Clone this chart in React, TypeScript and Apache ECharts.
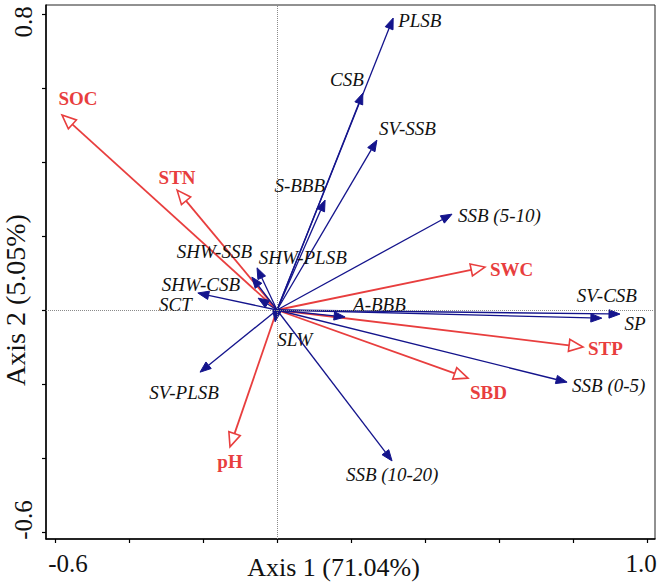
import React, { useEffect, useRef } from 'react';
import * as echarts from 'echarts';

// Species (response) arrows – blue, filled heads
const speciesNames = ['PLSB', 'CSB', 'SV-SSB', 'S-BBB', 'SSB (5-10)', 'SHW-SSB', 'SHW-PLSB', 'SHW-CSB', 'SCT', 'SV-CSB', 'SP', 'A-BBB', 'SLW', 'SV-PLSB', 'SSB (0-5)', 'SSB (10-20)'];
const speciesX = [0.314, 0.232, 0.270, 0.130, 0.473, -0.054, -0.068, -0.051, -0.214, 0.878, 0.927, 0.184, -0.005, -0.208, 0.784, 0.311];
const speciesY = [0.789, 0.586, 0.459, 0.297, 0.259, 0.114, 0.089, 0.032, 0.046, -0.022, -0.011, -0.019, -0.032, -0.168, -0.195, -0.408];

// Environmental arrows – red, open heads
const envNames = ['SOC', 'STN', 'SWC', 'STP', 'SBD', 'pH'];
const envX = [-0.581, -0.270, 0.562, 0.827, 0.516, -0.127];
const envY = [0.527, 0.324, 0.116, -0.100, -0.184, -0.370];

// Axis ticks
const xTickValues = [-0.6, -0.4, -0.2, 0, 0.2, 0.4, 0.6, 0.8, 1.0];
const xTickLabels = [-0.6, 1.0];
const yTickValues = [-0.6, -0.4, -0.2, 0, 0.2, 0.4, 0.6, 0.8];
const yTickLabels = [-0.6, 0.8];

const xTitle = 'Axis 1 (71.04%)';
const yTitle = 'Axis 2 (5.05%)';

// Label placement (pixel offsets from the arrow tip) – style only
const labelPlace: Record<string, { dx: number; dy: number; align: string }> = {
  'PLSB': { dx: 5, dy: 2, align: 'left' },
  'CSB': { dx: 1, dy: -14, align: 'right' },
  'SV-SSB': { dx: 2, dy: -12, align: 'left' },
  'S-BBB': { dx: 0, dy: -15, align: 'right' },
  'SSB (5-10)': { dx: 6, dy: 1, align: 'left' },
  'SHW-SSB': { dx: -5, dy: -16, align: 'right' },
  'SHW-PLSB': { dx: 7, dy: -20, align: 'left' },
  'SHW-CSB': { dx: -18, dy: -14, align: 'right' },
  'SCT': { dx: -6, dy: 12, align: 'right' },
  'SV-CSB': { dx: 5, dy: -23, align: 'center' },
  'SP': { dx: 15, dy: 9, align: 'center' },
  'A-BBB': { dx: 8, dy: -13, align: 'left' },
  'SLW': { dx: 2, dy: 18, align: 'left' },
  'SV-PLSB': { dx: -16, dy: 20, align: 'center' },
  'SSB (0-5)': { dx: 5, dy: 3, align: 'left' },
  'SSB (10-20)': { dx: 0, dy: 14, align: 'center' },
  'SOC': { dx: 16, dy: -17, align: 'center' },
  'STN': { dx: 0, dy: -13, align: 'center' },
  'SWC': { dx: 5, dy: 2, align: 'left' },
  'STP': { dx: 5, dy: 1, align: 'left' },
  'SBD': { dx: 2, dy: 14, align: 'left' },
  'pH': { dx: 0, dy: 15, align: 'center' },
};

const BLUE = '#14148c';
const RED = '#e83e3e';
const SERIF = '"Liberation Serif", "Times New Roman", serif';

function makeRenderer(names: string[], red: boolean) {
  return (params: any, api: any) => {
    const i = params.dataIndex;
    const name = names[i];
    const tip = api.coord([api.value(0), api.value(1)]);
    const o = api.coord([0, 0]);
    const dx = tip[0] - o[0];
    const dy = tip[1] - o[1];
    const len = Math.hypot(dx, dy) || 1;
    const ux = dx / len;
    const uy = dy / len;
    const headLen = red ? 14 : 11;
    const headW = red ? 6 : 4.2;
    const bx = tip[0] - ux * headLen;
    const by = tip[1] - uy * headLen;
    const px = -uy;
    const py = ux;
    const color = red ? RED : BLUE;
    const place = labelPlace[name] || { dx: 4, dy: 0, align: 'left' };
    return {
      type: 'group',
      children: [
        {
          type: 'line',
          shape: { x1: o[0], y1: o[1], x2: bx, y2: by },
          style: { stroke: color, lineWidth: red ? 1.8 : 1.3 },
        },
        {
          type: 'polygon',
          shape: {
            points: [
              [tip[0], tip[1]],
              [bx + px * headW, by + py * headW],
              [bx - px * headW, by - py * headW],
            ],
          },
          style: red
            ? { fill: '#ffffff', stroke: color, lineWidth: 1.6 }
            : { fill: color, stroke: color, lineWidth: 1 },
        },
        {
          type: 'text',
          style: {
            text: name,
            x: tip[0] + place.dx,
            y: tip[1] + place.dy,
            align: place.align,
            verticalAlign: 'middle',
            fill: red ? RED : '#111111',
            fontFamily: SERIF,
            fontSize: 19,
            fontStyle: red ? 'normal' : 'italic',
            fontWeight: red ? 'bold' : 'normal',
          },
        },
      ],
    };
  };
}

export default function App() {
  const ref = useRef<HTMLDivElement>(null);
  useEffect(() => {
    document.body.style.margin = '0';
    const chart = echarts.init(ref.current!, null, { renderer: 'svg' });
    const option: any = {
      animation: false,
      backgroundColor: '#ffffff',
      grid: {
        left: 46,
        right: 6,
        top: 5,
        bottom: 48,
        containLabel: false,
        outerBoundsMode: 'none',
        show: true,
        borderColor: '#222',
        borderWidth: 1,
        backgroundColor: 'transparent',
      },
      xAxis: {
        type: 'value',
        min: -0.6243,
        max: 1.0216,
        axisLine: { show: true, onZero: false, lineStyle: { color: '#000', width: 1.5 } },
        axisTick: { show: true, length: 4, customValues: xTickValues, lineStyle: { color: '#000', width: 1.2 } },
        splitLine: { show: false },
        axisLabel: {
          customValues: xTickLabels,
          margin: 12,
          formatter: (v: number) => (v < 0 ? '{a|' + v.toFixed(1) + '}' : '{b|' + v.toFixed(1) + '}'),
          rich: {
            a: { fontFamily: SERIF, fontSize: 25, color: '#111', padding: [0, 0, 0, 26] },
            b: { fontFamily: SERIF, fontSize: 25, color: '#111', padding: [0, 12, 0, 0] },
          },
        },
        name: xTitle,
        nameLocation: 'middle',
        nameGap: 15,
        nameMoveOverlap: false,
        nameTextStyle: { fontFamily: SERIF, fontSize: 26, color: '#111', padding: [0, 34, 0, 0] },
      },
      yAxis: {
        type: 'value',
        min: -0.6189,
        max: 0.8243,
        axisLine: { show: true, onZero: false, lineStyle: { color: '#000', width: 1.5 } },
        axisTick: { show: true, length: 4, customValues: yTickValues, lineStyle: { color: '#000', width: 1.2 } },
        splitLine: { show: false },
        axisLabel: {
          customValues: yTickLabels,
          rotate: 90,
          margin: 10,
          formatter: (v: number) => (v < 0 ? '{a|' + v.toFixed(1) + '}' : '{b|' + v.toFixed(1) + '}'),
          rich: {
            a: { fontFamily: SERIF, fontSize: 25, color: '#111', padding: [0, 0, 0, 24] },
            b: { fontFamily: SERIF, fontSize: 25, color: '#111', padding: [0, 16, 0, 0] },
          },
        },
        name: yTitle,
        nameLocation: 'middle',
        nameGap: 17,
        nameMoveOverlap: false,
        nameTextStyle: { fontFamily: SERIF, fontSize: 28, color: '#111', padding: [0, 56, 0, 0] },
      },
      series: [
        {
          type: 'line',
          data: [],
          z: 1,
          markLine: {
            silent: true,
            symbol: 'none',
            label: { show: false },
            lineStyle: { type: 'dotted', color: '#8a8a8a', width: 1 },
            data: [{ xAxis: 0 }, { yAxis: 0 }],
          },
        },
        {
          type: 'custom',
          z: 3,
          clip: false,
          renderItem: makeRenderer(envNames, true),
          data: envNames.map((_, i) => [envX[i], envY[i]]),
        },
        {
          type: 'custom',
          z: 4,
          clip: false,
          renderItem: makeRenderer(speciesNames, false),
          data: speciesNames.map((_, i) => [speciesX[i], speciesY[i]]),
        },
      ],
    };
    chart.setOption(option);
    return () => chart.dispose();
  }, []);
  return <div ref={ref} style={{ width: 661, height: 587 }} />;
}
